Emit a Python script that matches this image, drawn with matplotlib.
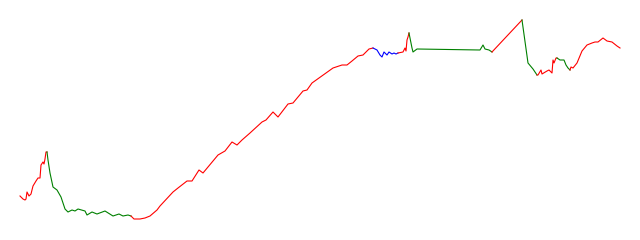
import numpy as np
import matplotlib
matplotlib.use('Agg')
import matplotlib.pyplot as plt

# price path (day, price)
day = [20, 23, 25, 26, 27, 29, 31, 33, 36, 38, 40, 41, 43, 44, 45, 46, 47,
       48, 50, 53, 57, 61, 65, 68, 72, 75, 78, 85, 87, 92, 97, 105, 113, 119, 123, 128, 131,
       134, 140, 145, 150, 157, 160, 173, 178, 187, 192, 199, 203, 218, 225, 232, 237, 242,
       250, 262, 266, 273, 278, 288, 293, 303, 307, 312, 333, 342, 347, 352, 358, 363, 369, 373,
       377, 380, 382, 384, 387, 389, 392, 394, 396, 398,
       403, 405, 406, 407, 408, 409,
       410, 412, 413, 417, 480, 483, 485, 489, 492,
       522,
       528, 533, 537,
       538, 541, 542, 547, 549, 552, 553, 554, 556, 557,
       560, 564, 566, 568, 570,
       571, 573, 577, 582, 587, 592, 595, 598, 603, 607, 612, 617, 620]
price = [44, 41, 40, 41, 48, 44, 46, 54, 59, 62, 62, 75, 78, 76, 81, 88, 88,
         80, 67, 53, 50, 43, 31, 28, 30, 29, 31, 29, 25, 28, 26, 29, 24, 26, 24, 25, 24,
         21, 21, 22, 24, 30, 34, 48, 52, 59, 59, 70, 67, 85, 89, 98, 95, 100,
         107, 118, 120, 128, 123, 136, 137, 149, 150, 157, 172, 175, 175, 179, 184, 185, 191, 192,
         190, 185, 183, 188, 185, 188, 186, 187, 186, 187,
         188, 192, 189, 200, 203, 207,
         202, 192, 188, 191, 190, 195, 191, 190, 188,
         220,
         177, 171, 165,
         165, 170, 166, 169, 170, 167, 180, 177, 182, 182,
         180, 180, 175, 172, 170,
         173, 172, 177, 189, 195, 197, 198, 198, 202, 199, 198, 194, 192]

# trend regimes: each starts at the given day and runs to the next one
regime_start = [20, 47, 131, 373, 398, 409, 492, 522, 537, 557, 570]
regime = ['up', 'down', 'up', 'side', 'up', 'down', 'up', 'down', 'up', 'down', 'up']
colors = {'up': 'red', 'down': 'green', 'side': 'blue'}

day = np.array(day)
price = np.array(price)
ends = regime_start[1:] + [day.max()]

fig = plt.figure(figsize=(6.4, 2.4), dpi=100)
ax = fig.add_axes([0, 0, 1, 1])
for s, e, r in zip(regime_start, ends, regime):
    m = (day >= s) & (day <= e)
    ax.plot(day[m], price[m], color=colors[r], lw=0.8)
ax.set_xlim(0, 640)
ax.set_ylim(0, 240)
ax.axis('off')
fig.savefig('out.png', dpi=100)
